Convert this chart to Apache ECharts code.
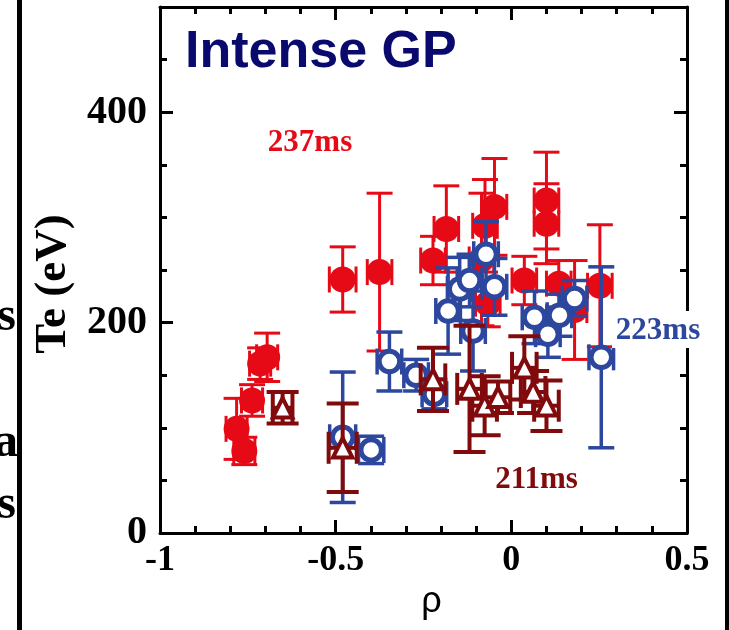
<!DOCTYPE html>
<html>
<head>
<meta charset="utf-8">
<script src="https://cdn.jsdelivr.net/npm/echarts@6/dist/echarts.min.js"></script>
<style>
  html, body { margin: 0; padding: 0; background: #ffffff; }
  #chart { width: 729px; height: 630px; }
</style>
</head>
<body>
<div id="chart"></div>
<script>
// Te profiles versus normalised radius rho during an intense gas puff,
// at three times (237 ms, 223 ms, 211 ms), with error bars on both axes.

// --- 237 ms (filled red circles)
const rho237   = [-0.782, -0.760, -0.738, -0.715, -0.695, -0.480, -0.375, -0.223, -0.185, -0.085, -0.075, -0.048, -0.067, 0.037, 0.100, 0.100, 0.135, 0.180, 0.252];
const te237    = [99, 78, 126, 161, 167, 241, 248, 259, 289, 260, 292, 310, 218, 240, 316, 294, 237, 212, 235];
const dTe237   = [29, 13, 15, 15, 23, 31, 75, 23, 41, 63, 44, 46, 22, 23, 46, 38, 22, 47, 58];
const dRho237  = [0.030, 0.030, 0.030, 0.030, 0.030, 0.038, 0.035, 0.035, 0.035, 0.035, 0.035, 0.035, 0.035, 0.035, 0.035, 0.035, 0.035, 0.035, 0.035];

// --- 223 ms (open blue circles)
const rho223   = [-0.480, -0.399, -0.347, -0.271, -0.219, -0.180, -0.147, -0.119, -0.109, -0.072, -0.048, 0.066, 0.104, 0.137, 0.180, 0.256];
const te223    = [91, 79, 163, 150, 132, 211, 232, 240, 192, 265, 234, 205, 189, 207, 223, 167];
const dTe223   = [62, 13, 28, 15, 14, 41, 30, 25, 38, 31, 27, 25, 22, 20, 17, 86];
const dRho223  = [0.037, 0.036, 0.035, 0.035, 0.035, 0.035, 0.035, 0.035, 0.035, 0.035, 0.035, 0.035, 0.035, 0.035, 0.035, 0.035];

// --- 211 ms (open dark-red triangles)
const rho211   = [-0.651, -0.480, -0.223, -0.119, -0.076, -0.038, 0.037, 0.062, 0.100];
const te211    = [119, 81, 146, 137, 121, 129, 157, 134, 121];
const dTe211   = [15, 42, 30, 60, 28, 15, 30, 20, 24];
const dRho211  = [0.028, 0.040, 0.035, 0.035, 0.035, 0.035, 0.035, 0.035, 0.035];

// --- axes
const xTickValues = [-1, -0.5, 0, 0.5];
const xTickLabels = ['-1', '-0.5', '0', '0.5'];
const yTickValues = [0, 200, 400];
const yTickLabels = ['0', '200', '400'];

const RED = '#e60a17';
const BLUE = '#2c479d';
const DARK = '#800a0c';
const SERIF = "'Liberation Serif', 'Times New Roman', serif";
const SANS = "'Liberation Sans', Arial, sans-serif";

function rows(rho, te, dte, drho) {
  return rho.map((r, i) => [r, te[i], dte[i], drho[i]]);
}

// Error bars (vertical and horizontal, both with caps) drawn through the axis scales
function errorBars(color, cap, width) {
  return function (params, api) {
    const x = api.value(0), y = api.value(1), dy = api.value(2), dx = api.value(3);
    const top = api.coord([x, y + dy]);
    const bot = api.coord([x, y - dy]);
    const lft = api.coord([x - dx, y]);
    const rgt = api.coord([x + dx, y]);
    const h = cap / 2;
    const style = { stroke: color, lineWidth: width, fill: null };
    const seg = (x1, y1, x2, y2) => ({ type: 'line', shape: { x1, y1, x2, y2 }, style });
    return {
      type: 'group',
      children: [
        seg(top[0], top[1], bot[0], bot[1]),
        seg(top[0] - h, top[1], top[0] + h, top[1]),
        seg(bot[0] - h, bot[1], bot[0] + h, bot[1]),
        seg(lft[0], lft[1], rgt[0], rgt[1]),
        seg(lft[0], lft[1] - h, lft[0], lft[1] + h),
        seg(rgt[0], rgt[1] - h, rgt[0], rgt[1] + h)
      ]
    };
  };
}

function errSeries(data, color, cap, width, z) {
  return {
    type: 'custom', data, z, silent: true,
    encode: { x: 0, y: 1 },
    renderItem: errorBars(color, cap, width)
  };
}

const lineStyle = { color: '#000', width: 3 };
const majorTick = { inside: true, length: 13, lineStyle: { color: '#000', width: 3 } };
const minorTickStyle = { color: '#000', width: 3 };

function fmt(values, labels) {
  return v => {
    const i = values.findIndex(t => Math.abs(t - v) < 1e-9);
    return i >= 0 ? labels[i] : '';
  };
}

const chart = echarts.init(document.getElementById('chart'), null, { renderer: 'canvas' });

chart.setOption({
  animation: false,
  backgroundColor: '#ffffff',
  grid: { left: 160, right: 42, top: 7, bottom: 97, outerBoundsMode: 'none' },
  xAxis: [
    {
      type: 'value', min: -1, max: 0.5, interval: 0.5, position: 'bottom',
      axisLine: { onZero: false, lineStyle },
      axisTick: majorTick,
      minorTick: { show: true, splitNumber: 5, length: 7, lineStyle: minorTickStyle },
      splitLine: { show: false }, minorSplitLine: { show: false },
      axisLabel: {
        formatter: fmt(xTickValues, xTickLabels), margin: 10,
        color: '#000', fontFamily: SERIF, fontWeight: 'bold', fontSize: 36
      },
      name: 'ρ', nameLocation: 'middle', nameGap: 48,
      nameTextStyle: { fontFamily: SANS, fontSize: 36, color: '#000', padding: [0, 0, 0, 16] }
    },
    {
      type: 'value', min: -1, max: 0.5, interval: 0.5, position: 'top',
      axisLine: { onZero: false, lineStyle },
      axisTick: majorTick,
      minorTick: { show: true, splitNumber: 5, length: 7, lineStyle: minorTickStyle },
      splitLine: { show: false }, minorSplitLine: { show: false },
      axisLabel: { show: false }
    }
  ],
  yAxis: [
    {
      type: 'value', min: 0, max: 500, interval: 200, position: 'left',
      axisLine: { onZero: false, lineStyle },
      axisTick: majorTick,
      splitLine: { show: false },
      axisLabel: {
        formatter: fmt(yTickValues, yTickLabels), margin: 13, showMaxLabel: false,
        color: '#000', fontFamily: SERIF, fontWeight: 'bold', fontSize: 40
      },
      name: 'Te (eV)', nameLocation: 'middle', nameGap: 82, nameRotate: 90,
      nameTextStyle: { fontFamily: SERIF, fontWeight: 'bold', fontSize: 45, color: '#000', padding: [0, 28, 0, 0] }
    },
    {
      type: 'value', min: 0, max: 500, interval: 50, position: 'left',
      axisLine: { show: false, onZero: false },
      axisTick: { inside: true, length: 7, lineStyle: minorTickStyle },
      splitLine: { show: false }, axisLabel: { show: false }
    },
    {
      type: 'value', min: 0, max: 500, interval: 200, position: 'right',
      axisLine: { onZero: false, lineStyle },
      axisTick: majorTick,
      splitLine: { show: false }, axisLabel: { show: false }
    },
    {
      type: 'value', min: 0, max: 500, interval: 50, position: 'right',
      axisLine: { show: false, onZero: false },
      axisTick: { inside: true, length: 7, lineStyle: minorTickStyle },
      splitLine: { show: false }, axisLabel: { show: false }
    }
  ],
  series: [
    errSeries(rows(rho237, te237, dTe237, dRho237), RED, 26, 3, 2),
    {
      type: 'scatter', name: '237ms', z: 3, silent: true,
      data: rows(rho237, te237, dTe237, dRho237),
      symbol: 'circle', symbolSize: 26,
      itemStyle: { color: RED, opacity: 1 },
      emphasis: { disabled: true }
    },
    errSeries(rows(rho223, te223, dTe223, dRho223), BLUE, 26, 3.5, 4),
    {
      type: 'scatter', name: '223ms', z: 5, silent: true,
      data: rows(rho223, te223, dTe223, dRho223),
      symbol: 'circle', symbolSize: 20.5,
      itemStyle: { color: '#ffffff', borderColor: BLUE, borderWidth: 5, opacity: 1 },
      emphasis: { disabled: true }
    },
    errSeries(rows(rho211, te211, dTe211, dRho211), DARK, 32, 4, 6),
    {
      type: 'scatter', name: '211ms', z: 7, silent: true,
      data: rows(rho211, te211, dTe211, dRho211),
      symbol: 'triangle', symbolSize: 19.5,
      itemStyle: { color: '#ffffff', borderColor: DARK, borderWidth: 4, opacity: 1 },
      emphasis: { disabled: true }
    }
  ],
  graphic: [
    // frame bars at both sides of the panel
    { type: 'rect', z: 100, shape: { x: 17, y: 0, width: 5, height: 630 }, style: { fill: '#000' } },
    { type: 'rect', z: 100, shape: { x: 725, y: 0, width: 5, height: 630 }, style: { fill: '#000' } },
    // ends of words from the neighbouring panel
    { type: 'text', z: 90, x: 16, y: 318, style: { text: 'us', fill: '#000', fontFamily: SERIF, fontWeight: 'bold', fontSize: 48, align: 'right', verticalAlign: 'middle' } },
    { type: 'text', z: 90, x: 18, y: 444, style: { text: 'na', fill: '#000', fontFamily: SERIF, fontWeight: 'bold', fontSize: 48, align: 'right', verticalAlign: 'middle' } },
    { type: 'text', z: 90, x: 16, y: 506, style: { text: 's', fill: '#000', fontFamily: SERIF, fontWeight: 'bold', fontSize: 48, align: 'right', verticalAlign: 'middle' } },
    // panel title
    { type: 'text', z: 100, x: 185, y: 53, style: { text: 'Intense GP', fill: '#0a0a6e', fontFamily: SANS, fontWeight: 'bold', fontSize: 52, align: 'left', verticalAlign: 'middle' } },
    // time labels
    { type: 'text', z: 100, x: 310, y: 142.5, style: { text: '237ms', fill: RED, fontFamily: SERIF, fontWeight: 'bold', fontSize: 31, align: 'center', verticalAlign: 'middle' } },
    { type: 'rect', z: 100, shape: { x: 612, y: 311, width: 92, height: 37 }, style: { fill: '#ffffff' } },
    { type: 'text', z: 101, x: 658, y: 330.5, style: { text: '223ms', fill: BLUE, fontFamily: SERIF, fontWeight: 'bold', fontSize: 31, align: 'center', verticalAlign: 'middle' } },
    { type: 'text', z: 100, x: 536.5, y: 480, style: { text: '211ms', fill: DARK, fontFamily: SERIF, fontWeight: 'bold', fontSize: 31, align: 'center', verticalAlign: 'middle' } }
  ]
});
</script>
</body>
</html>
